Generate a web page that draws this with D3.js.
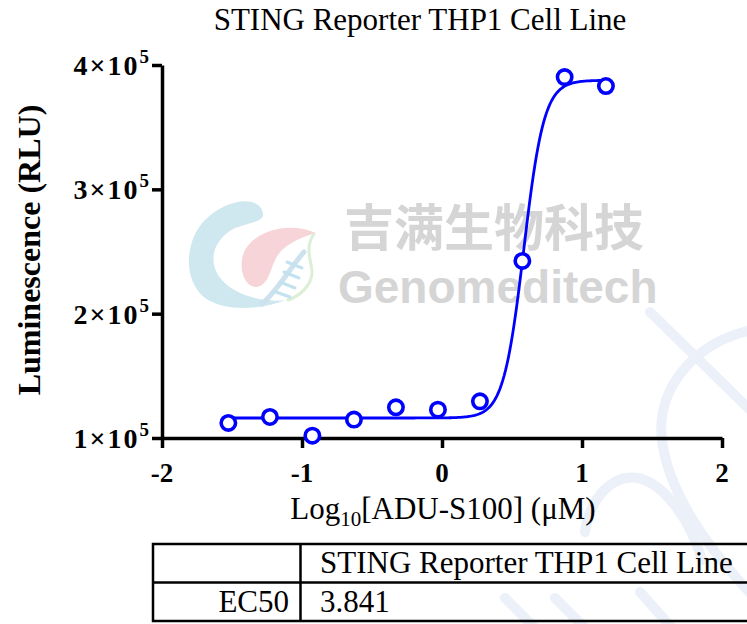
<!DOCTYPE html>
<html>
<head>
<meta charset="utf-8">
<script src="https://cdn.jsdelivr.net/npm/d3@7"></script>
<style>
  body { margin: 0; background: #fff; }
  svg { display: block; }
</style>
</head>
<body>
<div id="chart_area"></div>
<script>
// dose-response, STING reporter

var logDose = [-1.526, -1.229, -0.926, -0.629, -0.329, -0.029, 0.271, 0.574, 0.876, 1.171];
var rlu = [112100, 116900, 101900, 114800, 124700, 122800, 129500, 242400, 390300, 383100];

// fitted 4PL: bottom, top, EC50 (uM), hill slope
var fitParams = [116100, 387700, 3.841, 6.0];

var yTicks = [100000, 200000, 300000, 400000];
var xTicks = [-2, -1, 0, 1, 2];

var tableHead = ["", "STING Reporter THP1 Cell Line"];
var tableRow = ["EC50", "3.841"];

var W = 747, H = 624;
var serif = "'Liberation Serif', 'Times New Roman', serif";

var svg = d3.select("#chart_area").append("svg")
    .attr("width", W)
    .attr("height", H);

var x = d3.scaleLinear().domain([-2, 2]).range([162, 722]);
var y = d3.scaleLinear().domain([100000, 400000]).range([438, 65]);

// watermark stuff (goes under everything)
var wm = svg.append("g").attr("class", "watermark")
    .attr("fill", "none").attr("stroke-linecap", "round");

var wmLines = [
    "M650,312 L752,412",
    "M752,330 C700,340 655,385 662,440 C668,490 705,545 752,595",
    "M585,532 C590,498 612,474 638,478 C665,484 690,520 702,560",
    "M505,598 L535,628",
    "M555,598 L585,628",
    "M640,592 L672,628"
];
wmLines.forEach(function(p) {
    wm.append("path").attr("d", p).attr("stroke", "#ebf0f9").attr("stroke-width", 10);
});

// logo
wm.append("path")
    .attr("d", "M262,210 C255,195 225,200 205,220 C185,240 182,280 205,298 C225,312 262,310 285,300 C265,303 232,296 218,275 C208,258 215,238 235,228 C250,222 268,222 262,210 Z")
    .attr("fill", "#cfe8f0");
wm.append("path")
    .attr("d", "M316,233 C292,222 258,228 245,250 C236,268 246,292 260,286 C272,280 270,262 282,250 C292,241 305,236 316,233 Z")
    .attr("fill", "#f6d4d8");
wm.append("path")
    .attr("d", "M314,234 C304,248 312,262 312,272 C312,285 300,296 288,300")
    .attr("stroke", "#dcefd6").attr("stroke-width", 3);
wm.append("path")
    .attr("d", "M304,252 C290,268 278,290 262,304")
    .attr("stroke", "#cde2ee").attr("stroke-width", 5);
[[287, 262, 302, 268], [284, 272, 299, 278], [280, 282, 295, 288], [276, 292, 290, 297]].forEach(function(s) {
    wm.append("line")
        .attr("x1", s[0]).attr("y1", s[1]).attr("x2", s[2]).attr("y2", s[3])
        .attr("stroke", "#c3e2ef").attr("stroke-width", 3);
});

wm.append("text")
    .attr("x", 344).attr("y", 246)
    .attr("stroke", "none")
    .attr("font-family", "'Noto Sans CJK SC', sans-serif")
    .attr("font-weight", "bold")
    .attr("font-size", 50)
    .attr("fill", "#d5d5d5")
    .text("吉满生物科技");

wm.append("text")
    .attr("x", 338).attr("y", 303)
    .attr("stroke", "none")
    .attr("font-family", "'Liberation Sans', Arial, sans-serif")
    .attr("font-weight", "bold")
    .attr("font-size", 46)
    .attr("fill", "#d5d5d5")
    .text("Genomeditech");

// title
svg.append("text")
    .attr("x", 420).attr("y", 30)
    .attr("text-anchor", "middle")
    .attr("font-family", serif)
    .attr("font-size", 31)
    .text("STING Reporter THP1 Cell Line");

// axes
var xAxis = svg.append("g")
    .attr("transform", "translate(0,438)")
    .call(d3.axisBottom(x).tickValues(xTicks).tickSize(10).tickSizeOuter(0).tickFormat(""));

var yAxis = svg.append("g")
    .attr("transform", "translate(162,0)")
    .call(d3.axisLeft(y).tickValues(yTicks).tickSize(10).tickSizeOuter(0).tickFormat(""));

[xAxis, yAxis].forEach(function(a) {
    a.select(".domain").attr("stroke", "#000").attr("stroke-width", 3.5);
    a.selectAll(".tick line").attr("stroke", "#000").attr("stroke-width", 3.5);
});

svg.append("g").selectAll("text")
    .data(xTicks)
    .enter().append("text")
    .attr("x", function(d) { return x(d); })
    .attr("y", 482)
    .attr("text-anchor", "middle")
    .attr("font-family", serif)
    .attr("font-weight", "bold")
    .attr("font-size", 27)
    .text(function(d) { return d < 0 ? "-" + Math.abs(d) : d; });

var yLab = svg.append("g").selectAll("text")
    .data(yTicks)
    .enter().append("text")
    .attr("x", 151)
    .attr("y", function(d) { return y(d) + 10; })
    .attr("text-anchor", "end")
    .attr("font-family", serif)
    .attr("font-weight", "bold")
    .attr("font-size", 28)
    .attr("letter-spacing", 2);
yLab.append("tspan").text(function(d) { return (d / 100000) + "×10"; });
yLab.append("tspan").attr("dy", -12).attr("font-size", 19).text("5");

svg.append("text")
    .attr("transform", "translate(40,250) rotate(-90)")
    .attr("text-anchor", "middle")
    .attr("font-family", serif)
    .attr("font-weight", "bold")
    .attr("font-size", 32)
    .text("Luminescence (RLU)");

var xt = svg.append("text")
    .attr("x", 443).attr("y", 519)
    .attr("text-anchor", "middle")
    .attr("font-family", serif)
    .attr("font-size", 31);
xt.append("tspan").text("Log");
xt.append("tspan").attr("dy", 7).attr("font-size", 21).text("10");
xt.append("tspan").attr("dy", -7).text("[ADU-S100] (μM)");

// fitted curve
function fit(lx) {
    var b = fitParams[0], t = fitParams[1], logEC = Math.log10(fitParams[2]), h = fitParams[3];
    return b + (t - b) / (1 + Math.pow(10, (logEC - lx) * h));
}
var curveX = d3.range(logDose[0], logDose[logDose.length - 1] + 0.001, 0.01);
svg.append("path")
    .datum(curveX)
    .attr("fill", "none")
    .attr("stroke", "#0000ff")
    .attr("stroke-width", 2.8)
    .attr("d", d3.line().x(function(d) { return x(d); }).y(function(d) { return y(fit(d)); }));

// points
svg.append("g").selectAll("circle")
    .data(logDose)
    .enter().append("circle")
    .attr("cx", function(d) { return x(d); })
    .attr("cy", function(d, i) { return y(rlu[i]); })
    .attr("r", 7.2)
    .attr("fill", "#fff")
    .attr("stroke", "#0000ff")
    .attr("stroke-width", 3.6);

// EC50 table
var tab = svg.append("g").attr("font-family", serif).attr("font-size", 31);
tab.append("rect")
    .attr("x", 153).attr("y", 544).attr("width", 620).attr("height", 77)
    .attr("fill", "none").attr("stroke", "#000").attr("stroke-width", 2.5);
tab.append("line").attr("x1", 153).attr("x2", 773).attr("y1", 582.5).attr("y2", 582.5)
    .attr("stroke", "#000").attr("stroke-width", 2.5);
tab.append("line").attr("x1", 300.5).attr("x2", 300.5).attr("y1", 544).attr("y2", 621)
    .attr("stroke", "#000").attr("stroke-width", 2.5);
tab.append("text").attr("x", 320).attr("y", 573).text(tableHead[1]);
tab.append("text").attr("x", 289).attr("y", 612).attr("text-anchor", "end").text(tableRow[0]);
tab.append("text").attr("x", 320).attr("y", 612).text(tableRow[1]);
</script>
</body>
</html>
